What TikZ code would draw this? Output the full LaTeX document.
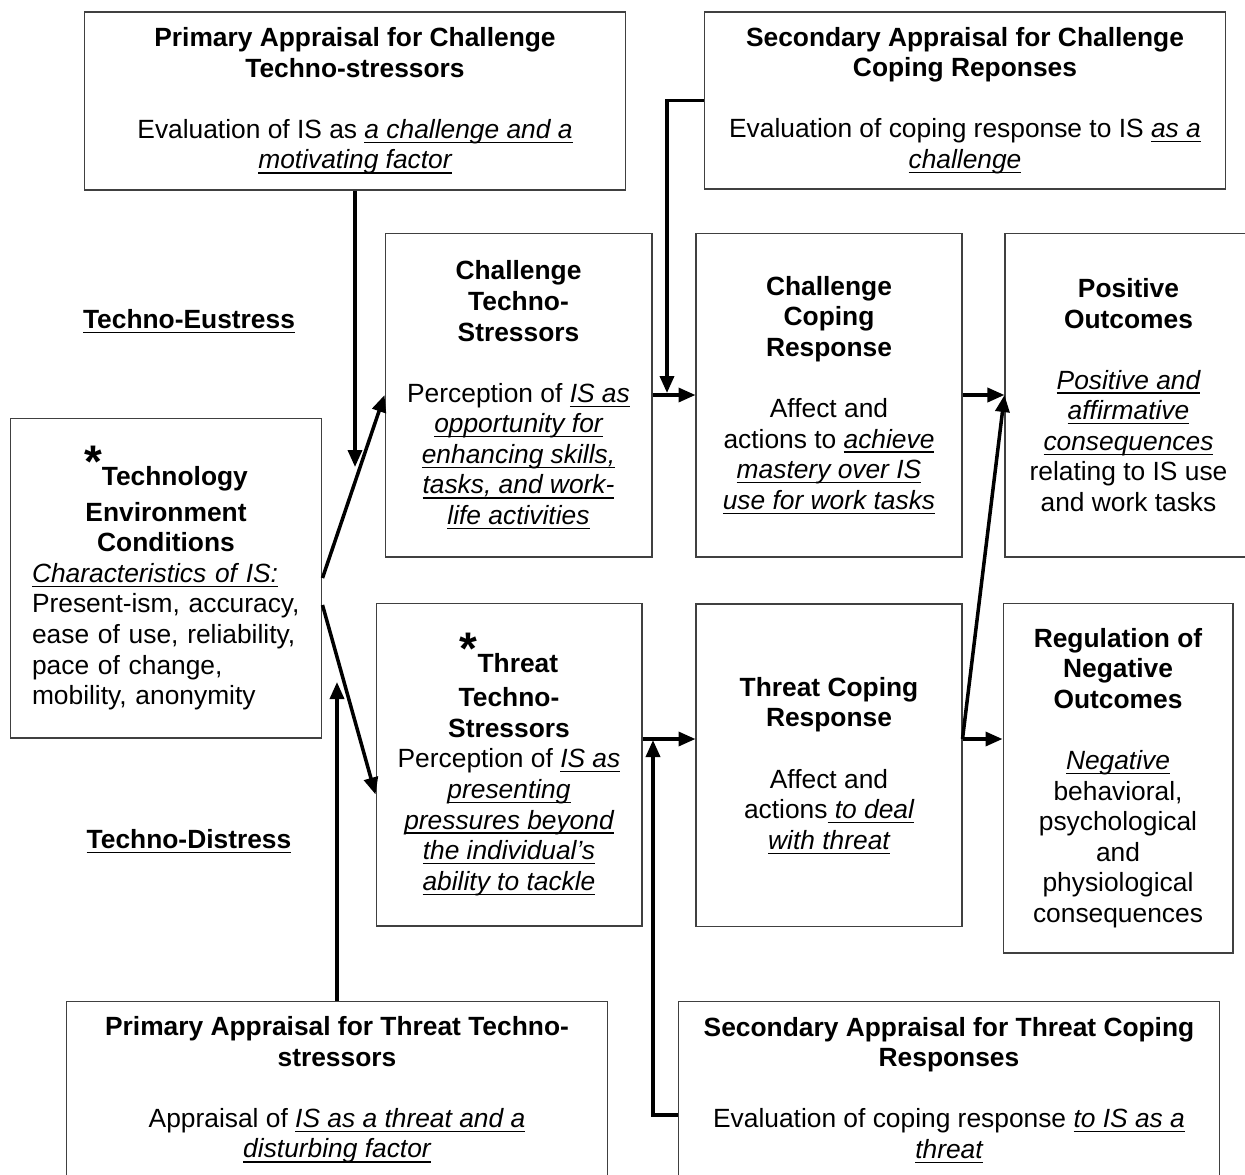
\documentclass[tikz,border=0pt]{standalone}
\usepackage{fontspec}
\setmainfont{Liberation Sans}
\usepackage{tikz}
\usetikzlibrary{positioning,arrows.meta}

\newcommand{\ulbox}[1]{\leavevmode\setbox0\hbox{#1}\rlap{\rule[-2.6pt]{\wd0}{0.7pt}}\box0}
\newcommand{\uit}[1]{\ulbox{\itshape #1}}
\newcommand{\astmark}{\raisebox{0.3em}{\fontsize{26}{26}\selectfont *}}

\begin{document}
\begin{tikzpicture}[
    x=0.02cm, y=-0.02cm,
    box/.style={draw=black!75, line width=0.6pt, align=center, inner sep=0pt,
      font=\fontsize{15}{17.4}\selectfont},
    tag/.style={font=\fontsize{15}{17.4}\selectfont\bfseries},
    arrow/.style={-{Triangle[length=0.34cm, width=0.28cm]}, line width=2pt}
  ]
    \useasboundingbox (0,0) rectangle (1245,1174);

    % appraisal boxes
    \node[box, minimum width=10.84cm, minimum height=3.56cm] (pac) at (355,101)
      {\textbf{Primary Appraisal for Challenge}\\\textbf{Techno-stressors}\\[17.4pt]
       Evaluation of IS as \uit{a challenge and a}\\\uit{motivating factor}};
    \node[box, minimum width=10.44cm, minimum height=3.54cm] (sac) at (965,100.5)
      {\textbf{Secondary Appraisal for Challenge}\\\textbf{Coping Reponses}\\[17.4pt]
       Evaluation of coping response to IS \uit{as a}\\\uit{challenge}};
    \node[box, minimum width=10.84cm, minimum height=3.56cm] (pat) at (337,1090)
      {\textbf{Primary Appraisal for Threat Techno-}\\\textbf{stressors}\\[17.4pt]
       Appraisal of \uit{IS as a threat and a}\\\uit{disturbing factor}};
    \node[box, minimum width=10.84cm, minimum height=3.56cm] (sat) at (949,1090)
      {\textbf{Secondary Appraisal for Threat Coping}\\\textbf{Responses}\\[17.4pt]
       Evaluation of coping response \uit{to IS as a}\\\uit{threat}};

    % challenge row
    \node[box, minimum width=5.34cm, minimum height=6.48cm] (cts) at (518.5,395)
      {\textbf{Challenge}\\\textbf{Techno-}\\\textbf{Stressors}\\[17.4pt]
       Perception of \uit{IS as}\\\uit{opportunity for}\\\uit{enhancing skills,}\\
       \uit{tasks, and work-}\\\uit{life activities}};
    \node[box, minimum width=5.32cm, minimum height=6.48cm, right=0.86cm of cts] (ccr)
      {\textbf{Challenge}\\\textbf{Coping}\\\textbf{Response}\\[17.4pt]
       Affect and\\actions to \uit{achieve}\\\uit{mastery over IS}\\\uit{use for work tasks}};
    \node[box, minimum width=4.94cm, minimum height=6.48cm, right=0.84cm of ccr] (pos)
      {\textbf{Positive}\\\textbf{Outcomes}\\[17.4pt]
       \uit{Positive and}\\\uit{affirmative}\\\uit{consequences}\\
       relating to IS use\\and work tasks};

    % technology environment
    \node[box, align=left, text width=5.36cm, inner xsep=0.44cm, minimum height=6.4cm] (ten) at (166,578)
      {{\centering\bfseries\astmark Technology\\[3pt]Environment\\Conditions\par}
       \uit{Characteristics of IS:}\\Present-ism, accuracy,\\ease of use, reliability,\\
       pace of change,\\mobility, anonymity};

    % threat row
    \node[box, minimum width=5.32cm, minimum height=6.46cm] (tts) at (509,764.5)
      {\textbf{\astmark Threat}\\[2pt]\textbf{Techno-}\\\textbf{Stressors}\\
       Perception of \uit{IS as}\\\uit{presenting}\\\uit{pressures beyond}\\
       \uit{the individual’s}\\\uit{ability to tackle}};
    \node[box, minimum width=5.32cm, minimum height=6.46cm, below=0.92cm of ccr] (tcr)
      {\textbf{Threat Coping}\\\textbf{Response}\\[17.4pt]
       Affect and\\actions\uit{ to deal}\\\uit{with threat}};
    \node[box, minimum width=4.6cm, minimum height=7cm] (reg) at (1118,778)
      {\textbf{Regulation of}\\\textbf{Negative}\\\textbf{Outcomes}\\[17.4pt]
       \uit{Negative}\\behavioral,\\psychological\\and\\physiological\\consequences};

    \node[tag] (eus) at (189,321) {\ulbox{Techno-Eustress}};
    \node[tag] (dis) at (189,841) {\ulbox{Techno-Distress}};

    \coordinate (pacend) at (355,467);
    \coordinate (sacend) at (667,393);
    \coordinate (patend) at (337,682);
    \coordinate (satend) at (653,740);
    \coordinate (tlevel) at (0,739);
    \coordinate (satlevel) at (0,1115);

    \draw[arrow] (pac) -- (pacend);
    \draw[arrow] (sac.west) -| (sacend);
    \draw[arrow] (cts) -- (ccr);
    \draw[arrow] (ten.east) -- (cts.west);
    \draw[arrow] ([yshift=-0.54cm]ten.east) -- ([yshift=-0.6cm]tts.west);
    \draw[arrow] (pat) -- (patend);
    \draw[arrow] (tts.east |- tlevel) -- (tcr.west |- tlevel);
    \draw[arrow] (sat.west |- satlevel) -| (satend);
    \draw[arrow] (ccr) -- (pos);
    \draw[arrow] (tcr.east |- tlevel) -- (reg.west |- tlevel);
    \draw[arrow] (tcr.east |- tlevel) -- (pos.west);
  \end{tikzpicture}
\end{document}
